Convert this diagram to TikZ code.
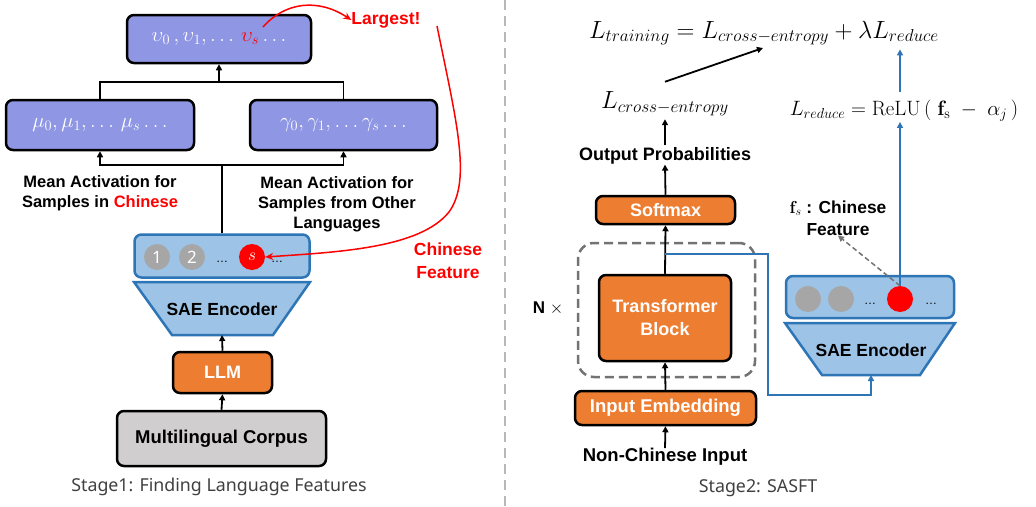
\documentclass[tikz,border=0pt]{standalone}
\usepackage[no-math]{fontspec}
\setmainfont{Liberation Sans}
\newfontfamily\capfont{Noto Sans}
\usetikzlibrary{arrows.meta}
\definecolor{purp}{RGB}{143,150,227}
\definecolor{orng}{HTML}{ED7D31}
\definecolor{lblue}{HTML}{9DC3E6}
\definecolor{bblue}{HTML}{2E75B6}
\definecolor{cgray}{HTML}{D0CECE}
\definecolor{dgray}{HTML}{A6A6A6}
\definecolor{capgray}{HTML}{404040}
\begin{document}
\begin{tikzpicture}[x=1pt,y=-1pt,
  box/.style={draw=black, line width=2.5pt, rounded corners=7pt, inner sep=0pt},
  pbox/.style={box, fill=purp, text=white, font=\fontsize{21}{24}\selectfont},
  obox/.style={box, fill=orng, text=white, font=\fontsize{18}{23}\selectfont\bfseries, align=center},
  fbox/.style={draw=bblue, fill=lblue, line width=2.5pt, rounded corners=7pt},
  enc/.style={draw=bblue, fill=lblue, line width=2.5pt},
  lbl/.style={font=\fontsize{16.5}{20}\selectfont\bfseries, align=center, inner sep=0pt},
  redlbl/.style={lbl, text=red, font=\fontsize{17.5}{23}\selectfont\bfseries},
  captxt/.style={font=\capfont\fontsize{17.8}{21}\selectfont, text=capgray, inner sep=0pt},
  gcirc/.style={circle, fill=dgray, minimum size=26pt, inner sep=0pt, text=white, font=\capfont\fontsize{17}{20}\selectfont},
  rcirc/.style={circle, fill=red, minimum size=26pt, inner sep=0pt, text=white, font=\fontsize{17}{20}\selectfont},
  dots/.style={inner sep=0pt, font=\fontsize{12}{14}\selectfont},
  mth/.style={inner sep=0pt, font=\fontsize{23.5}{26}\selectfont},
  arr/.style={line width=1.8pt, -{Triangle[length=6pt,width=6pt]}},
  barr/.style={draw=bblue, line width=1.8pt, -{Triangle[length=6pt,width=6pt]}},
  rarr/.style={draw=red, line width=1.5pt, -{Stealth[length=8pt,width=7pt]}},
]
\useasboundingbox (0,0) rectangle (1036,506);

% divider
\draw[draw=black!28, line width=1.5pt, dash pattern=on 10pt off 6pt] (505,0) -- (505,506);

% ---------- Stage 1 ----------
\node[pbox, minimum width=184pt, minimum height=48pt] (v) at (219,39)
  {$\upsilon_0\,,\upsilon_1,\ldots\,\textcolor{red}{\upsilon_s}\ldots$};
\node[pbox, minimum width=188pt, minimum height=50pt] (mu) at (100,125)
  {$\mu_0,\mu_1,\ldots\,\mu_s\ldots$};
\node[pbox, minimum width=187pt, minimum height=50pt] (gam) at (343.5,125)
  {$\gamma_0,\gamma_1,\ldots\gamma_s\ldots$};

\node[fbox, minimum width=175pt, minimum height=43pt] (featL) at (222,256) {};
\node[gcirc] (c1) at (157,257) {1};
\node[gcirc] (c2) at (192,257) {2};
\node[dots] (d1) at (222,262) {\ldots};
\node[rcirc] (cs) at (252,257) {$s$};
\node[dots] (d2) at (277,262) {\ldots};

\draw[enc] (134,282) -- (310,282) -- (273,335) -- (172,335) -- cycle;
\coordinate (saeLtop) at (222,282);
\coordinate (saeLbot) at (222,335);
\node[lbl, font=\fontsize{17.5}{20}\selectfont\bfseries] (saeL) at (222,309) {SAE Encoder};

\node[obox, minimum width=99pt, minimum height=41pt] (llm) at (222.5,372.5) {LLM};
\node[box, fill=cgray, minimum width=209pt, minimum height=55pt, font=\fontsize{18.5}{22}\selectfont\bfseries] (corp) at (221.5,438.5) {Multilingual Corpus};

\node[lbl] (mal) at (100,193) {Mean Activation for\\Samples in \textcolor{red}{Chinese}};
\node[lbl] (mar) at (337,204) {Mean Activation for\\Samples from Other\\Languages};

\node[captxt] (cap1) at (219,487) {Stage1: Finding Language Features};

\coordinate (j1) at (219,82);
\coordinate (j2) at (222,165);
\draw[line width=1.8pt] (mu.north) |- (j1) -| (gam.north);
\draw[arr] (j1) -- (v.south);
\draw[line width=1.8pt] (featL.north) -- (j2);
\draw[arr] (j2) -| (mu.south);
\draw[arr] (j2) -| (gam.south);
\draw[arr] (llm.north) -- (saeLbot);
\draw[arr] (corp.north) -- (llm.south);

\node[redlbl] (largest) at (386,20) {Largest!};
\node[redlbl] (cfeat) at (448,261) {Chinese\\Feature};
\coordinate (vs) at (263,27);
\draw[rarr] (vs) .. controls (285,2) and (318,-2) .. (largest.west);
\coordinate (lgb) at (437,26);
\draw[rarr] (lgb) .. controls (456,120) and (472,180) .. (449,212)
  .. controls (420,248) and (340,252) .. (cs.east);

% ---------- Stage 2 ----------
\node[mth] (ltr) at (764,33) {$L_{training} = L_{cross-entropy} + \lambda L_{reduce}$};
\coordinate (ltrce) at (763,48);
\node[mth] (lce) at (665,104) {$L_{cross-entropy}$};
\node[lbl, font=\fontsize{18}{21}\selectfont\bfseries] (op) at (665,156) {Output Probabilities};
\node[obox, minimum width=139pt, minimum height=28pt] (sm) at (665.5,210) {Softmax};
\node[draw=black!55, line width=2.5pt, dash pattern=on 9pt off 5pt, rounded corners=16pt,
      minimum width=177pt, minimum height=134pt] (nbox) at (666.5,310) {};
\node[obox, minimum width=132pt, minimum height=86pt] (tb) at (665,318) {Transformer\\Block};
\node[lbl, font=\fontsize{17}{20}\selectfont\bfseries] (nx) at (548,308) {N $\times$};
\node[obox, minimum width=181pt, minimum height=34pt, font=\fontsize{18.5}{22}\selectfont\bfseries] (ie) at (665.5,408) {Input Embedding};
\node[lbl, font=\fontsize{18.5}{22}\selectfont\bfseries] (nci) at (665,457) {Non-Chinese Input};
\node[captxt] (cap2) at (758,488) {Stage2: SASFT};

\node[fbox, minimum width=168pt, minimum height=42pt] (featR) at (870,297) {};
\node[gcirc] (r1) at (808,299) {};
\node[gcirc] (r2) at (841,299) {};
\node[dots] (rd1) at (870,304) {\ldots};
\node[rcirc] (rs) at (900,299) {};
\node[dots] (rd2) at (931,304) {\ldots};

\draw[enc] (785,323) -- (955,323) -- (920,375) -- (822,375) -- cycle;
\coordinate (saeRbot) at (871,375);
\node[lbl, font=\fontsize{17.5}{20}\selectfont\bfseries] (saeR) at (871,350) {SAE Encoder};

\node[mth, font=\fontsize{21}{24}\selectfont] (lred) at (904,111) {$L_{reduce} = \mathrm{ReLU}\left(\;\mathbf{f}_{\mathrm{s}}\;-\;\alpha_j\,\right)$};
\node[lbl, font=\fontsize{17.4}{22}\selectfont\bfseries] (fsl) at (838,218) {$\mathbf{f}_s$ : Chinese\\Feature};

\draw[arr] (tb.north) -- (sm.south);
\coordinate (br) at (665,254);
\coordinate (bc) at (768,254);
\draw[barr] (br) -- (bc) |- ([yshift=-20pt]saeRbot) -- (saeRbot);
\draw[arr] (ie.north) -- (tb.south);
\draw[arr] (nci.north) -- (ie.south);
\draw[arr] (sm.north) -- (op.south);
\draw[arr, shorten <=2pt] (op.north) -- ([yshift=-3pt]lce.south);
\draw[arr] ([yshift=10pt]lce.north) -- (ltrce);
\draw[barr] (rs.north) -- (rs.north |- lred.south);
\draw[barr] ([yshift=8pt]rs.north |- lred.north) -- ([yshift=-4pt]rs.north |- ltr.south);
\draw[draw=black!55, line width=1.5pt, dash pattern=on 5pt off 3pt, -{Triangle[length=6pt,width=6pt]}] (rs.north) -- (fsl.south);

\end{tikzpicture}
\end{document}
